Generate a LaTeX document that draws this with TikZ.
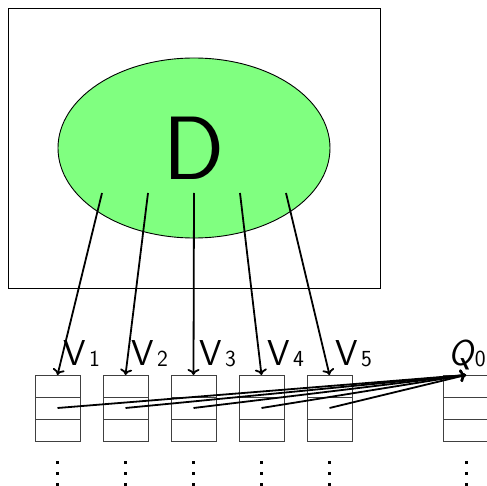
\documentclass[tikz,border=0pt]{standalone}
\usetikzlibrary{arrows.meta}
\begin{document}
\begin{tikzpicture}[x=1pt,y=-1pt,
  cell/.style={draw=black!75,line width=0.9pt,minimum width=45pt,minimum height=22pt,inner sep=0pt,outer sep=0pt},
  link/.style={line width=1.8pt,-{To[length=6pt,width=12pt,line width=1.8pt]}},
  lbl/.style={font=\sffamily\fontsize{36}{36}\selectfont,inner sep=0pt},
  dot/.style={fill=black}]
\useasboundingbox (0,0) rectangle (487,486);
% outer frame and the D ellipse
\draw[line width=0.9pt] (8,8) rectangle (380,288);
\draw[fill=green!50,line width=0.9pt] (194,148) ellipse [x radius=136,y radius=90];
\node (D) at (194,148) {\sffamily\fontsize{90}{90}\selectfont D};
% queue stacks
\foreach \i/\x in {1/57.5,2/125.5,3/193.5,4/261.5,5/329.5,0/466}{
  \node[cell] (s\i a) at (\x,386) {};
  \node[cell] (s\i b) at (\x,408) {};
  \node[cell] (s\i c) at (\x,430) {};
  \foreach \y in {462,473,484}{\fill[dot] (\x-1.5,\y-1.5) rectangle (\x+1.5,\y+1.5);}
}
% labels
\foreach \i/\x in {1/57.5,2/125.5,3/193.5,4/261.5,5/329.5}{
  \node[lbl,anchor=base west] (v\i) at (\x+6,365) {V\kern3pt\raisebox{-1pt}{\fontsize{23}{23}\selectfont\i}};
}
\node[lbl,anchor=base east] (q0) at (486,365) {\itshape Q\upshape\kern1.5pt\raisebox{-1pt}{\fontsize{23}{23}\selectfont 0}};
% arrows from D into each stack
\foreach \i/\x in {1/102,2/148,3/194,4/240,5/286}{
  \coordinate (e\i) at (\x,193);
  \draw[link] (e\i) -- (s\i a.north);
}
% links from each stack's middle cell to Q0
\foreach \i in {1,...,5}{
  \draw[link] (s\i b.center) -- (s0a.north);
}
\end{tikzpicture}
\end{document}
